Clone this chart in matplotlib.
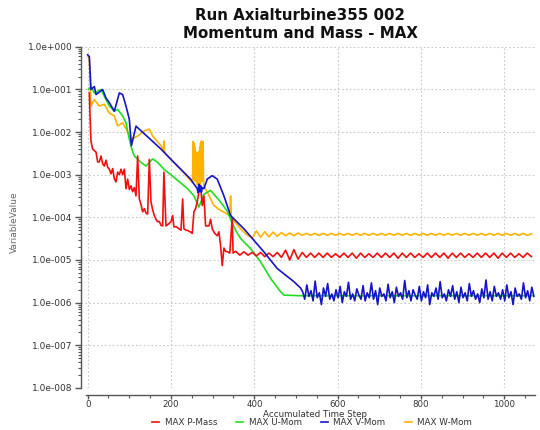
import numpy as np
import matplotlib
matplotlib.use('Agg')
import matplotlib.pyplot as plt
from matplotlib.ticker import FuncFormatter, MultipleLocator, LogLocator, NullFormatter

# ---- data ----
red_x = [4, 6, 8, 12, 20, 24, 28, 32, 36, 40, 44, 48, 52, 56, 60, 64, 68, 72, 76, 80,
         84, 88, 92, 96, 100, 104, 108, 112, 116, 120, 124, 128, 132, 136, 140, 144, 148,
         152, 156, 160, 164, 168, 172, 176, 180, 183, 188, 194, 200, 204, 207, 213, 219,
         224, 228, 231, 236, 240, 246, 251, 255, 259, 263, 267, 271, 275, 279, 283, 291,
         295, 299, 305, 311, 315, 319, 323, 327, 331, 336, 341, 347, 349]
red_v = [8.3e-2, 2e-2, 6e-3, 4.0e-3, 3.4e-3, 2.0e-3, 2.0e-3, 2.75e-3, 1.8e-3, 1.6e-3,
         2.2e-3, 1.5e-3, 1.35e-3, 1.05e-3, 1.4e-3, 8e-4, 6.8e-4, 1.15e-3, 1.0e-3, 1.35e-3,
         1.0e-3, 1.35e-3, 4.7e-4, 7.9e-4, 4.5e-4, 5.5e-4, 4.0e-4, 5e-4, 3.2e-4, 2.75e-3,
         2.7e-4, 2e-4, 1.35e-4, 1.6e-4, 1.25e-4, 1.2e-4, 2.3e-3, 2.3e-4, 1.5e-4, 1.1e-4,
         9e-5, 7.9e-5, 8e-5, 6.5e-5, 6.3e-5, 1.15e-3, 6.3e-5, 7e-5, 7.9e-5, 1.1e-4,
         6e-5, 6e-5, 5.4e-5, 5e-5, 2.7e-4, 5.4e-5, 5e-5, 4.9e-5, 4.6e-5, 4.2e-5,
         1.35e-4, 1.6e-4, 2.3e-4, 4e-4, 5.5e-4, 1.9e-4, 3.2e-4, 6.3e-5, 6.3e-5, 9e-5,
         5.4e-5, 4.2e-5, 3.7e-5, 4.6e-5, 2.2e-5, 7.4e-6, 1.9e-5, 1.6e-5, 1.55e-5, 1.45e-5,
         1.0e-4, 1.45e-5]
# red tail, every 10 steps from 355 (units of 1e-5)
red_tail = [1.6, 1.3, 1.55, 1.3, 1.5, 1.25, 1.5, 1.2, 1.45, 1.2,
            1.5, 1.15, 1.7, 1.0, 1.75, 1.05, 1.5, 1.15, 1.45, 1.15,
            1.45, 1.15, 1.45, 1.15, 1.4, 1.15, 1.45, 1.15, 1.45, 1.1,
            1.45, 1.15, 1.4, 1.15, 1.45, 1.15, 1.45, 1.15, 1.45, 1.1,
            1.45, 1.15, 1.45, 1.15, 1.4, 1.15, 1.45, 1.15, 1.45, 1.15,
            1.45, 1.1, 1.45, 1.15, 1.45, 1.15, 1.4, 1.15, 1.45, 1.15,
            1.45, 1.15, 1.45, 1.1, 1.45, 1.15, 1.45, 1.15, 1.4, 1.15,
            1.45, 1.2]

grn_x = [2, 8, 16, 32, 40, 52, 64, 72, 84, 92, 100, 106, 112, 128, 140, 156, 168, 183,
         207, 240, 255, 267, 279, 295, 319, 335, 345, 355, 367, 391, 415, 439, 463, 471,
         511, 1068]
grn_v = [1.0e-1, 1.17e-1, 8.3e-2, 1.0e-1, 6.9e-2, 4.1e-2, 3.1e-2, 3.4e-2, 2.4e-2, 1.65e-2,
         6.8e-3, 4.0e-3, 2.75e-3, 1.95e-3, 1.6e-3, 2.35e-3, 1.95e-3, 1.35e-3,
         8.7e-4, 4.7e-4, 3.2e-4, 1.75e-4, 3.5e-4, 4.3e-4, 2.3e-4, 1.4e-4, 8e-5, 5e-5,
         3.2e-5, 1.85e-5, 9.1e-6, 3.7e-6, 1.8e-6, 1.5e-6, 1.45e-6, 1.45e-6]

blu_x = [0, 4, 8, 16, 20, 36, 44, 52, 64, 76, 84, 92, 100, 105, 116, 124, 176, 207, 247,
         263, 265, 267, 269, 271, 273, 275, 279, 287, 299, 311, 327, 343, 375, 423, 455,
         495, 511]
blu_v = [0.65, 0.59, 0.1, 0.117, 7.6e-2, 0.1, 6.3e-2, 4.9e-2, 3.1e-2, 8.3e-2, 7.6e-2,
         4.1e-2, 2.0e-2, 4.8e-3, 1.38e-2, 1.17e-2, 4.0e-3, 1.95e-3, 7.9e-4,
         4.7e-4, 3.8e-4, 6e-4, 4e-4, 5.5e-4, 3.9e-4, 5e-4, 4.7e-4, 7.9e-4, 9.5e-4, 7.9e-4,
         3.2e-4, 1.1e-4, 5.4e-5, 1.55e-5, 6.3e-6, 3.1e-6, 2.2e-6]
# blue tail, every 5 steps from 516 (units of 1e-6)
blu_tail = [1.8, 1.2, 2.6, 1.4, 1.9, 1.1, 3.2, 1.3, 1.7, 0.9, 2.2, 1.4, 2.8, 1.2,
            1.6, 1.1, 2.0, 1.3, 2.4, 1.0, 1.8, 1.4, 3.0, 1.2, 1.6, 1.1, 2.1, 1.5,
            1.2, 2.5, 1.1, 1.7, 1.3, 2.9, 1.2, 1.9, 0.9, 2.2, 1.4, 1.6, 1.1, 2.7,
            1.3, 1.8, 1.0, 2.3, 1.4, 1.7, 1.2, 3.3, 1.3, 1.9, 1.1, 2.0, 1.5, 1.2,
            2.4, 1.1, 1.8, 1.3, 2.6, 0.9, 1.7, 1.4, 2.2, 1.2, 3.1, 1.3, 1.6, 1.1,
            2.0, 1.4, 2.5, 1.2, 1.8, 1.0, 2.3, 1.3, 1.7, 1.1, 2.8, 1.4, 1.9, 1.2,
            1.6, 1.0, 2.1, 1.3, 3.4, 1.2, 1.8, 1.1, 2.4, 1.4, 1.7, 1.2, 2.0, 1.1,
            2.6, 1.3, 1.8, 0.9, 2.2, 1.4, 1.6, 1.2, 2.9, 1.3, 1.9, 1.1, 2.3, 1.4]

yel_x = [1, 4, 8, 16, 28, 40, 52, 64, 72, 84, 92, 104, 120, 136, 148, 156, 176, 181, 183,
         185, 192, 223, 251,
         252, 253, 254, 255, 256, 257, 258, 259, 260, 261, 262, 263, 264, 265, 266, 267,
         268, 269, 270, 271, 272, 273, 274, 275, 276, 277, 278, 279,
         287, 303, 319, 335, 341, 343, 345, 347, 367, 383, 391]
yel_v = [0.6, 0.5, 4.1e-2, 5.8e-2, 4.1e-2, 4.5e-2, 2.8e-2, 2.4e-2, 1.4e-2, 1.65e-2,
         1.2e-2, 6.8e-3, 8.1e-3, 1.07e-2, 1.17e-2, 8.1e-3, 4.8e-3, 3.6e-3, 6.2e-3,
         3.3e-3, 2.75e-3, 1.35e-3, 6.6e-4,
         6.5e-4, 6.0e-3, 8e-4, 5.5e-3, 1.2e-3, 4.5e-3, 7e-4, 3.5e-3, 1.5e-3, 3.2e-3,
         6e-4, 3.3e-3, 9e-4, 2.8e-3, 5e-4, 3.5e-3, 1.1e-3, 4.5e-3, 6e-4, 5.5e-3,
         1.0e-3, 6.2e-3, 7e-4, 5.8e-3, 1.3e-3, 6.0e-3, 8e-4, 5.5e-4,
         3.9e-4, 1.9e-4, 1.45e-4, 1.2e-4, 1.1e-4, 3.2e-4, 1.0e-4, 9.3e-5, 5.4e-5, 3.8e-5,
         3.5e-5]
# yellow tail, every 10 steps from 395 (units of 1e-5)
yel_tail = [3.3, 4.8, 3.4, 4.6, 3.5, 4.5, 3.6, 4.4, 3.7, 4.3,
            3.7, 4.3, 3.8, 4.2, 3.8, 4.2, 3.8, 4.2, 3.8, 4.2,
            3.8, 4.2, 3.8, 4.2, 3.8, 4.2, 3.8, 4.2, 3.8, 4.2,
            3.8, 4.2, 3.8, 4.2, 3.8, 4.2, 3.8, 4.2, 3.8, 4.2,
            3.8, 4.2, 3.8, 4.2, 3.8, 4.2, 3.8, 4.2, 3.8, 4.2,
            3.8, 4.2, 3.8, 4.2, 3.8, 4.2, 3.8, 4.2, 3.8, 4.2,
            3.8, 4.2, 3.8, 4.2, 3.8, 4.2, 3.8, 4.1]

labels = ['MAX P-Mass', 'MAX U-Mom', 'MAX V-Mom', 'MAX W-Mom']
colors = ['#f01010', '#22dd22', '#1515c8', '#ffb300']

# ---- assemble series ----
rx = red_x + list(355 + 10 * np.arange(len(red_tail)))
ry = red_v + [v * 1e-5 for v in red_tail]
yx = yel_x + list(395 + 10 * np.arange(len(yel_tail)))
yy = yel_v + [v * 1e-5 for v in yel_tail]
bx = blu_x + list(516 + 5 * np.arange(len(blu_tail)))
by = blu_v + [v * 1e-6 for v in blu_tail]

fig = plt.figure(figsize=(5.4, 4.3), dpi=100)
ax = fig.add_axes([0.150, 0.098, 0.841, 0.793])

lw = 1.2
lines = {}
lines[3] = ax.plot(yx, yy, color=colors[3], lw=lw, zorder=2)[0]
lines[1] = ax.plot(grn_x, grn_v, color=colors[1], lw=lw, zorder=3)[0]
lines[0] = ax.plot(rx, ry, color=colors[0], lw=lw, zorder=4)[0]
lines[2] = ax.plot(bx, by, color=colors[2], lw=lw, zorder=5)[0]

ax.set_yscale('log')
ax.set_ylim(1e-8, 1)
ax.set_xlim(-16, 1074)

ax.yaxis.set_major_locator(LogLocator(base=10, numticks=20))
ax.yaxis.set_minor_locator(LogLocator(base=10, subs=np.arange(2, 10), numticks=20))
ax.yaxis.set_minor_formatter(NullFormatter())
ax.yaxis.set_major_formatter(FuncFormatter(lambda v, p: f"1.0e{int(round(np.log10(v))):+04d}"))
ax.xaxis.set_major_locator(MultipleLocator(200))
ax.xaxis.set_minor_locator(MultipleLocator(50))

for s in ['top', 'right']:
    ax.spines[s].set_visible(False)
for s in ['left', 'bottom']:
    ax.spines[s].set_color('#555555')
    ax.spines[s].set_linewidth(1.0)
ax.spines['bottom'].set_position(('outward', 5))
ax.spines['bottom'].set_bounds(-4, 1074)

ax.tick_params(axis='y', which='major', labelsize=6.5, colors='#555555',
               labelcolor='#333333', length=4, width=1, pad=2)
ax.tick_params(axis='x', which='major', labelsize=6.2, colors='#555555',
               labelcolor='#333333', length=3, width=1, pad=1)
ax.tick_params(axis='both', which='minor', colors='#555555', length=2.5, width=0.8)

ax.grid(True, which='major', color='#c8c8c8', linestyle=(0, (1.5, 2)), linewidth=0.8)
ax.set_axisbelow(True)

fig.text(0.026, 0.484, 'VariableValue', rotation=90, ha='center', va='center',
         fontsize=6.5, color='#666666')
fig.text(0.584, 0.037, 'Accumulated Time Step', ha='center', va='center',
         fontsize=6.3, color='#333333')

fig.text(0.556, 0.963, 'Run Axialturbine355 002', ha='center', va='center',
         fontsize=10.8, fontweight='bold', color='#111111')
fig.text(0.556, 0.923, 'Momentum and Mass - MAX', ha='center', va='center',
         fontsize=10.8, fontweight='bold', color='#111111')

fig.legend([lines[i] for i in range(4)], labels, loc='center', bbox_to_anchor=(0.578, 0.018),
           ncol=4, frameon=False, fontsize=6.3, handlelength=0.8, handletextpad=0.6,
           columnspacing=2.2, labelcolor='#333333', borderpad=0, borderaxespad=0)

fig.savefig('out.png', dpi=100)
